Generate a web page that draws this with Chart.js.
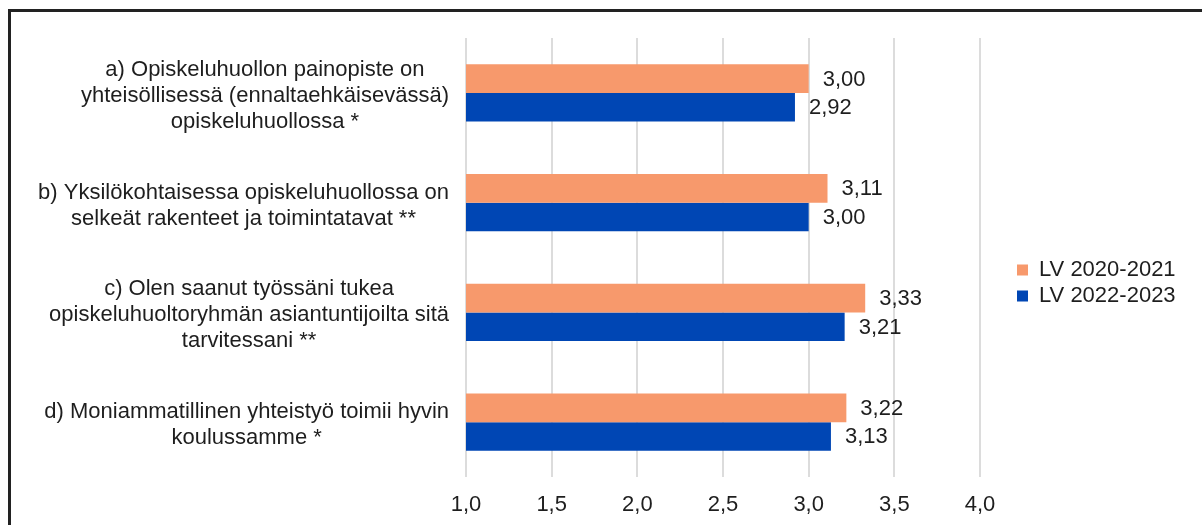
<!DOCTYPE html>
<html>
<head>
<meta charset="utf-8">
<script src="https://cdn.jsdelivr.net/npm/chart.js@4/dist/chart.umd.min.js"></script>
<style>
  html, body { margin: 0; padding: 0; background: #fff; overflow: hidden; width: 1202px; height: 525px; }
  #frame { position: absolute; left: 8px; top: 9px; width: 1260px; height: 600px; border: 3px solid #222; box-sizing: border-box; }
  #c { position: absolute; left: 11px; top: 12px; }
</style>
</head>
<body>
<div id="frame"></div>
<canvas id="c" width="1240" height="516"></canvas>
<script>
const categories = [
  ["a) Opiskeluhuollon painopiste on", "yhteisöllisessä (ennaltaehkäisevässä)", "opiskeluhuollossa *"],
  ["b) Yksilökohtaisessa opiskeluhuollossa on", "selkeät rakenteet ja toimintatavat **"],
  ["c) Olen saanut työssäni tukea", "opiskeluhuoltoryhmän asiantuntijoilta sitä", "tarvitessani **"],
  ["d) Moniammatillinen yhteistyö toimii hyvin", "koulussamme *"]
];
const seriesNames = ["LV 2020-2021", "LV 2022-2023"];
const values2020 = [3.00, 3.11, 3.33, 3.22];
const values2022 = [2.92, 3.00, 3.21, 3.13];
const xTicks = [1.0, 1.5, 2.0, 2.5, 3.0, 3.5, 4.0];

const FONT = "'Liberation Sans', Arial, sans-serif";
const TXT = '#1e1e1e';
const FS = 22;
const fmt = (v, d) => v.toFixed(d).replace('.', ',');

// measure legend text to place legend deterministically
const mctx = document.createElement('canvas').getContext('2d');
const legendFontSize = 22;
mctx.font = legendFontSize + 'px ' + FONT;
const legendTextW = Math.max(...seriesNames.map(s => mctx.measureText(s).width));
const CANVAS_W = 1240;
const chartRight = 973;   // canvas px
const gapAfterChart = 33;
const legendPad = 10, boxW = 11;
const legendW = legendPad + boxW + legendFontSize / 2 + legendTextW;
const padRight = Math.max(0, CANVAS_W - (chartRight + gapAfterChart + legendW));

const yLabelPlugin = {
  id: 'yLabels',
  afterDraw(chart) {
    const ctx = chart.ctx;
    const ys = chart.scales.y;
    ctx.save();
    ctx.font = FS + 'px ' + FONT;
    ctx.fillStyle = TXT;
    ctx.textAlign = 'center';
    ctx.textBaseline = 'middle';
    const rightEdge = 438, lh = 26;
    categories.forEach((lines, i) => {
      const yc = ys.getPixelForTick(i);
      const maxW = Math.max(...lines.map(l => ctx.measureText(l).width));
      const cx = rightEdge - maxW / 2;
      const y0 = yc - (lines.length - 1) * lh / 2 + 3;
      lines.forEach((l, k) => ctx.fillText(l, cx, y0 + k * lh));
    });
    ctx.restore();
  }
};

const valueLabelPlugin = {
  id: 'valueLabels',
  afterDatasetsDraw(chart) {
    const ctx = chart.ctx;
    ctx.save();
    ctx.font = FS + 'px ' + FONT;
    ctx.fillStyle = TXT;
    ctx.textAlign = 'left';
    ctx.textBaseline = 'middle';
    chart.data.datasets.forEach((ds, di) => {
      const meta = chart.getDatasetMeta(di);
      meta.data.forEach((bar, i) => {
        ctx.fillText(fmt(ds.data[i], 2), bar.x + 14, bar.y + 1);
      });
    });
    ctx.restore();
  }
};

new Chart(document.getElementById('c'), {
  type: 'bar',
  data: {
    labels: categories,
    datasets: [
      { label: seriesNames[0], data: values2020, backgroundColor: '#F7996C', borderWidth: 0 },
      { label: seriesNames[1], data: values2022, backgroundColor: '#0046B4', borderWidth: 0 }
    ]
  },
  options: {
    indexAxis: 'y',
    responsive: false,
    animation: false,
    devicePixelRatio: 1,
    layout: { padding: { top: 26, bottom: 0, left: 0, right: padRight } },
    datasets: { bar: { categoryPercentage: 0.52, barPercentage: 1.0 } },
    scales: {
      x: {
        type: 'linear',
        min: 1, max: 4,
        afterBuildTicks: s => { s.ticks = xTicks.map(v => ({ value: v })); },
        grid: { color: '#dcdcdc', lineWidth: 2, drawTicks: false },
        border: { display: false },
        ticks: { padding: 15, color: TXT, font: { family: FONT, size: FS }, callback: v => fmt(v, 1) },
        afterFit: s => { s.height = 51; }
      },
      y: {
        type: 'category',
        grid: { display: false },
        border: { display: false },
        ticks: { display: false },
        afterFit: s => { s.width = 455; }
      },
      gap: {
        type: 'category',
        position: 'right',
        labels: [''],
        grid: { display: false },
        border: { display: false },
        ticks: { display: false },
        afterFit: s => { s.width = gapAfterChart; }
      }
    },
    plugins: {
      legend: {
        position: 'right',
        labels: {
          boxWidth: boxW, boxHeight: 11, padding: 4,
          color: TXT,
          font: { family: FONT, size: legendFontSize }
        }
      },
      tooltip: { enabled: false }
    }
  },
  plugins: [yLabelPlugin, valueLabelPlugin]
});
</script>
</body>
</html>
